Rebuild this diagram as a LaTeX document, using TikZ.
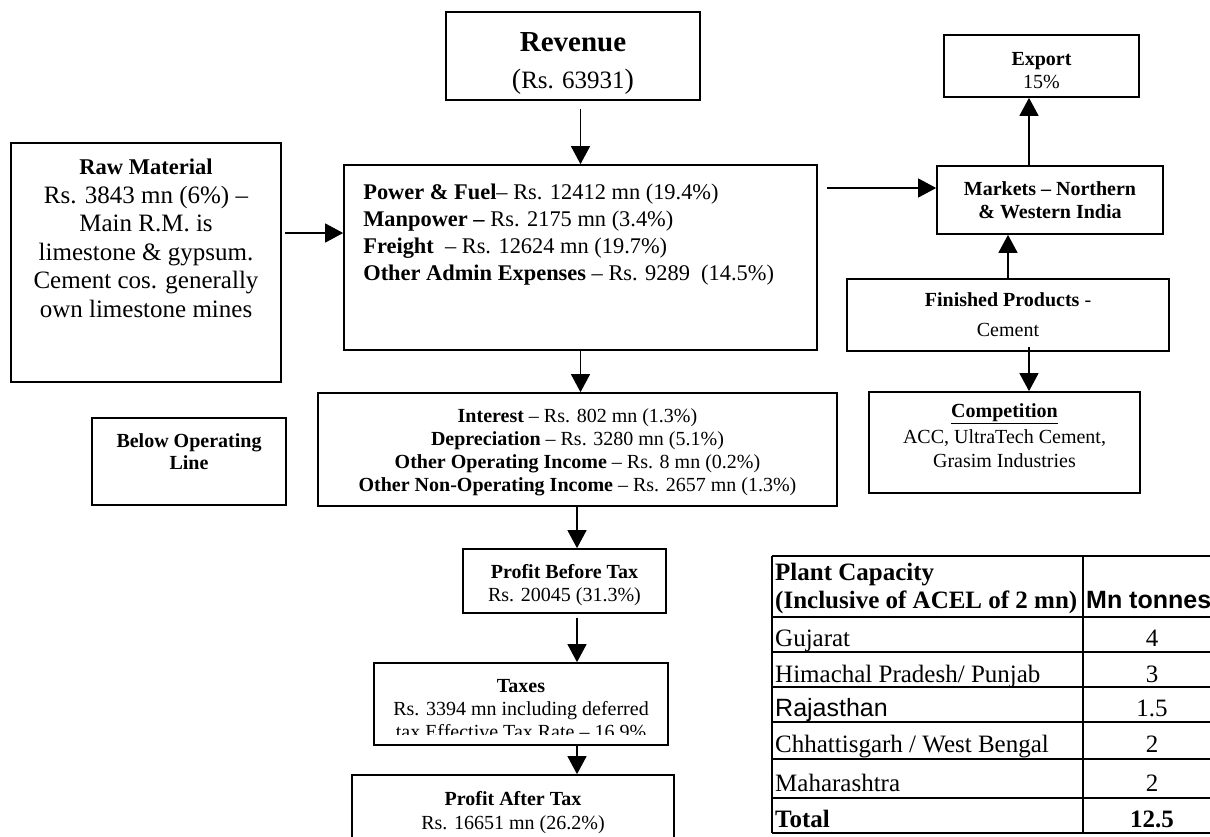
\documentclass[tikz,border=0pt]{standalone}
\usepackage{fontspec}
\setmainfont{Liberation Serif}
\setsansfont{Liberation Sans}
\usetikzlibrary{arrows.meta,positioning}

\begin{document}
\begin{tikzpicture}[x=1pt,y=-1pt,
	box/.style={draw,line width=1.7pt,inner sep=0pt},
	txt/.style={align=center,inner sep=0pt,font=\fontsize{20}{23}\selectfont},
	arr/.style={line width=1.3pt,-{Triangle[length=18pt,width=19pt]}},
	cell/.style={anchor=base west,inner sep=0pt,font=\fontsize{25}{28}\selectfont},
	val/.style={anchor=base,inner sep=0pt,font=\fontsize{25}{28}\selectfont}]
	\useasboundingbox (0,0) rectangle (1210,836);
	% spines for the vertical arrows
		\coordinate (sp) at (577,0);
		\coordinate (rsp) at (1029,0);
	% revenue
		\node[box,minimum width=254pt,minimum height=88pt] (rev) at (573,56) {};
		\node[txt,font=\fontsize{25}{37}\selectfont] (revtxt) at ([yshift=-7pt]rev.center)
			{{\fontsize{29}{37}\selectfont\bfseries Revenue}\\{\fontsize{28}{37}\selectfont(}Rs. 63931{\fontsize{28}{37}\selectfont)}};
	% raw material
		\node[box,minimum width=270pt,minimum height=239pt] (raw) at (146,262.5) {};
		\node[txt,below=17pt of raw.north,font=\fontsize{25}{28.5}\selectfont] (rawtxt)
			{{\fontsize{22.5}{28.5}\selectfont\bfseries Raw Material}\\Rs. 3843 mn (6\%) –\\Main R.M. is\\limestone \& gypsum.\\Cement cos. generally\\own limestone mines};
	% operating costs
		\node[box,minimum width=473pt,minimum height=185pt] (main) at (580.5,257.5) {};
		\node[txt,align=left,below right=20pt and 20pt of main.north west,font=\fontsize{22.4}{27}\selectfont] (maintxt)
			{\textbf{Power \& Fuel}– Rs. 12412 mn (19.4\%)\\
			 \textbf{Manpower –} Rs. 2175 mn (3.4\%)\\
			 \textbf{Freight}\ \ – Rs. 12624 mn (19.7\%)\\
			 \textbf{Other Admin Expenses} – Rs. 9289\ \ (14.5\%)};
	% below operating line
		\node[box,minimum width=194pt,minimum height=87pt] (below) at (189,461.5) {};
		\node[txt,below=16pt of below.north,font=\fontsize{20}{22}\selectfont\bfseries] (belowtxt) {Below Operating\\Line};
		\node[box,minimum width=519pt,minimum height=113pt] (inter) at (577.5,449.5) {};
		\node[txt] (intertxt) at ([yshift=-3pt]inter.center)
			{\textbf{Interest} – Rs. 802 mn (1.3\%)\\
			 \textbf{Depreciation} – Rs. 3280 mn (5.1\%)\\
			 \textbf{Other Operating Income} – Rs. 8 mn (0.2\%)\\
			 \textbf{Other Non-Operating Income} – Rs. 2657 mn (1.3\%)};
	% profit and taxes
		\node[box,minimum width=203pt,minimum height=64pt] (pbt) at (564.5,581) {};
		\node[txt] (pbttxt) at ([yshift=-4pt]pbt.center) {\textbf{Profit Before Tax}\\Rs. 20045 (31.3\%)};
		\node[box,minimum width=294pt,minimum height=82pt] (tax) at (521,704) {};
		\begin{scope}
			\clip (tax.north west) rectangle ([yshift=11pt]tax.south east);
			\node[txt,below=17pt of tax.north] (taxtxt)
				{\textbf{Taxes}\\Rs. 3394 mn including deferred\\tax Effective Tax Rate – 16.9\%};
		\end{scope}
		\node[box,minimum width=322pt,minimum height=90pt] (pat) at (513,820) {};
		\node[txt,below=17pt of pat.north,font=\fontsize{20}{24}\selectfont] (pattxt) {\textbf{Profit After Tax}\\Rs. 16651 mn (26.2\%)};
	% markets side
		\node[box,minimum width=195pt,minimum height=62pt] (export) at (1041.5,66) {};
		\node[txt,below=18pt of export.north,font=\fontsize{20}{23}\selectfont] (exptxt) {\textbf{Export}\\15\%};
		\node[box,txt,minimum width=226pt,minimum height=68pt,font=\fontsize{20}{23}\selectfont\bfseries] (markets) at (1050,200)
			{Markets – Northern\\\& Western India};
		\node[box,txt,minimum width=322pt,minimum height=72pt,font=\fontsize{20}{30}\selectfont] (fp) at (1008,315)
			{\textbf{Finished Products} -\\Cement};
		\node[box,minimum width=271pt,minimum height=101pt] (comp) at (1004.5,442.5) {};
		\node[txt,below=12pt of comp.north,font=\fontsize{20}{24}\selectfont] (comptxt)
			{\textbf{\underline{Competition}}\\[2pt]ACC, UltraTech Cement,\\Grasim Industries};
	% arrows
		\draw[arr,shorten <=8pt] (main.north |- rev.south) -- (main.north);
		\coordinate (rawout) at ([yshift=29.5pt]raw.east);
		\draw[arr,shorten <=3pt] (rawout) -- (rawout -| main.west);
		\coordinate (mktin) at ([yshift=12pt]markets.west);
		\draw[arr,shorten <=9pt] (mktin -| main.east) -- (mktin);
		\draw[arr] (markets.north -| rsp) -- (export.south -| rsp);
		\draw[arr] (fp.north) -- (fp.north |- markets.south);
		\draw[arr,shorten <=-5pt] (fp.south -| rsp) -- (comp.north -| rsp);
		\draw[arr] (main.south) -- (main.south |- inter.north);
		\draw[arr] (inter.south -| sp) -- (pbt.north -| sp);
		\draw[arr,shorten <=4pt] (pbt.south -| sp) -- (tax.north -| sp);
		\draw[arr] (tax.south -| sp) -- (pat.north -| sp);
	% plant capacity table
		\foreach \yy in {556,617,652,687,722,759,798,833}
			\draw[line width=1.8pt] (772,\yy) -- (1222,\yy);
		\foreach \xx in {772,1083,1222}
			\draw[line width=1.8pt] (\xx,556) -- (\xx,833);
		\node[cell,font=\fontsize{25}{28}\selectfont\bfseries] (hd1) at (775,580) {Plant Capacity};
		\node[cell,font=\fontsize{25}{28}\selectfont\bfseries] (hd2) at (775,608) {(Inclusive of ACEL of 2 mn)};
		\node[cell,font=\fontsize{25}{28}\sffamily\bfseries] (hd3) at (1086,608) {Mn tonnes};
		\node[cell] (r1) at (775,646) {Gujarat};
		\node[val] (v1) at (1152,646) {4};
		\node[cell] (r2) at (775,682) {Himachal Pradesh/ Punjab};
		\node[val] (v2) at (1152,682) {3};
		\node[cell,font=\fontsize{25}{28}\sffamily] (r3) at (775,716) {Rajasthan};
		\node[val] (v3) at (1152,716) {1.5};
		\node[cell] (r4) at (775,752) {Chhattisgarh / West Bengal};
		\node[val] (v4) at (1152,752) {2};
		\node[cell] (r5) at (775,791) {Maharashtra};
		\node[val] (v5) at (1152,791) {2};
		\node[cell,font=\fontsize{25}{28}\selectfont\bfseries] (r6) at (775,827) {Total};
		\node[val,font=\fontsize{25}{28}\selectfont\bfseries] (v6) at (1152,827) {12.5};
\end{tikzpicture}
\end{document}
